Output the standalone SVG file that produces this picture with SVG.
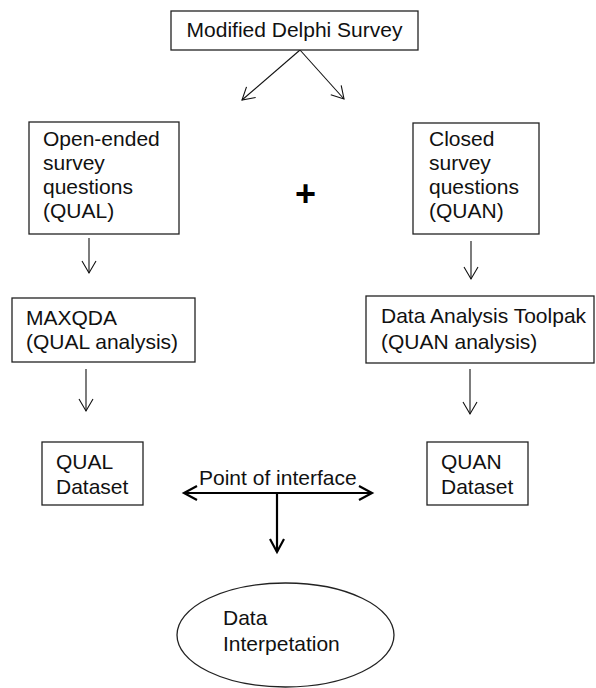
<svg xmlns="http://www.w3.org/2000/svg" width="596" height="688" viewBox="0 0 596 688">
<defs>
<style>
.box{fill:#fff;stroke:#222;stroke-width:1.3}
.t{font-family:"Liberation Sans",Arial,sans-serif;font-size:21px;fill:#111}
.thin{stroke:#111;stroke-width:1.1;fill:none}
.bold{stroke:#000;stroke-width:2.2;fill:none}
</style>
<marker id="ah" markerUnits="userSpaceOnUse" markerWidth="20" markerHeight="20" viewBox="-14 -10 16 20" refX="0" refY="0" orient="auto">
<path d="M-12,-7 L0,0 L-12,7" fill="none" stroke="#111" stroke-width="1.1"/>
</marker>
<marker id="ahb" markerUnits="userSpaceOnUse" markerWidth="20" markerHeight="20" viewBox="-15 -10 17 20" refX="0" refY="0" orient="auto">
<path d="M-13,-7 L0,0 L-13,7" fill="none" stroke="#000" stroke-width="2.2"/>
</marker>
</defs>
<rect width="596" height="688" fill="#fff"/>
<g id="connectors">
<line class="thin" x1="300" y1="50" x2="242" y2="100" marker-end="url(#ah)"/>
<line class="thin" x1="300" y1="50" x2="344" y2="99" marker-end="url(#ah)"/>
<line class="thin" x1="89" y1="238" x2="89" y2="273" marker-end="url(#ah)"/>
<line class="thin" x1="471" y1="241" x2="471" y2="279" marker-end="url(#ah)"/>
<line class="thin" x1="86" y1="369" x2="86" y2="411" marker-end="url(#ah)"/>
<line class="thin" x1="470" y1="369" x2="470" y2="414" marker-end="url(#ah)"/>
<line class="bold" x1="278" y1="493" x2="184" y2="493" marker-end="url(#ahb)"/>
<line class="bold" x1="278" y1="493" x2="372" y2="493" marker-end="url(#ahb)"/>
<line class="bold" x1="277" y1="493" x2="277" y2="552" marker-end="url(#ahb)"/>
<text class="t" x="199" y="485">Point of interface</text>
</g>
<g id="delphi">
<rect class="box" x="171" y="11" width="247" height="39"/>
<text class="t" x="294.5" y="37" text-anchor="middle">Modified Delphi Survey</text>
</g>
<g id="open-ended">
<rect class="box" x="29" y="122" width="150" height="112"/>
<text class="t" x="43"><tspan x="43" y="146">Open-ended</tspan><tspan x="43" y="170">survey</tspan><tspan x="43" y="194">questions</tspan><tspan x="43" y="218">(QUAL)</tspan></text>
</g>
<g id="plus">
<text x="305.5" y="206" text-anchor="middle" style="font-family:'Liberation Sans',Arial,sans-serif;font-size:36px;font-weight:bold;fill:#000">+</text>
</g>
<g id="closed">
<rect class="box" x="413" y="123" width="126" height="111"/>
<text class="t"><tspan x="429" y="146">Closed</tspan><tspan x="429" y="170">survey</tspan><tspan x="429" y="194">questions</tspan><tspan x="429" y="218">(QUAN)</tspan></text>
</g>
<g id="maxqda">
<rect class="box" x="12" y="298" width="183" height="64"/>
<text class="t"><tspan x="26" y="325">MAXQDA</tspan><tspan x="26" y="349">(QUAL analysis)</tspan></text>
</g>
<g id="toolpak">
<rect class="box" x="366" y="296" width="228" height="67"/>
<text class="t"><tspan x="381" y="323">Data Analysis Toolpak</tspan><tspan x="381" y="349">(QUAN analysis)</tspan></text>
</g>
<g id="qual-dataset">
<rect class="box" x="42" y="442" width="101" height="63"/>
<text class="t"><tspan x="56" y="469">QUAL</tspan><tspan x="56" y="494">Dataset</tspan></text>
</g>
<g id="quan-dataset">
<rect class="box" x="427" y="442" width="101" height="63"/>
<text class="t"><tspan x="441" y="469">QUAN</tspan><tspan x="441" y="494">Dataset</tspan></text>
</g>
<g id="interpretation">
<ellipse class="box" cx="285.5" cy="635" rx="108.5" ry="52"/>
<text class="t"><tspan x="223" y="625">Data</tspan><tspan x="223" y="651">Interpetation</tspan></text>
</g>
</svg>
